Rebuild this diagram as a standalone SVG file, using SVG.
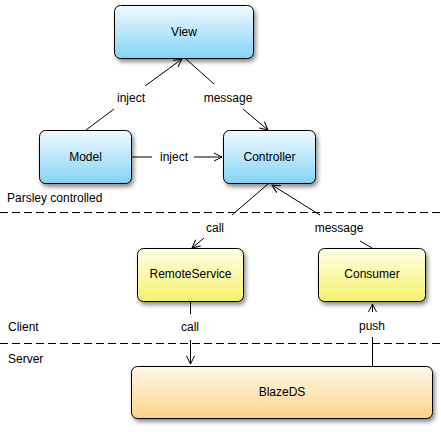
<svg xmlns="http://www.w3.org/2000/svg" width="441" height="432" viewBox="0 0 441 432">
<style>
text{font-family:"Liberation Sans",Arial,sans-serif;font-size:12px;fill:#000}
.lbl{text-anchor:middle}
.box{stroke:#000;stroke-width:1}
.c{stroke:#000;stroke-width:1;fill:none}
.dash{stroke:#000;stroke-width:1;stroke-dasharray:8,4}
</style>
<defs>
<linearGradient id="gb" x1="0" y1="0" x2="0" y2="1"><stop offset="0" stop-color="#f0faff"/><stop offset="1" stop-color="#84d3f7"/></linearGradient>
<linearGradient id="gy" x1="0" y1="0" x2="0" y2="1"><stop offset="0" stop-color="#ffffe8"/><stop offset="1" stop-color="#f5f26c"/></linearGradient>
<linearGradient id="go" x1="0" y1="0" x2="0" y2="1"><stop offset="0" stop-color="#fff8ec"/><stop offset="1" stop-color="#fdd385"/></linearGradient>
<filter id="sh" x="-20%" y="-20%" width="150%" height="160%"><feDropShadow dx="2" dy="3" stdDeviation="2" flood-color="#000" flood-opacity="0.45"/></filter>
<marker id="ar" markerWidth="10" markerHeight="10" refX="9" refY="5" orient="auto" markerUnits="userSpaceOnUse"><path d="M1,1 L9,5 L1,9" fill="none" stroke="#000" stroke-width="1"/></marker>
</defs>
<line class="dash" x1="0" y1="212.5" x2="441" y2="212.5"/>
<line class="dash" x1="0" y1="343.5" x2="441" y2="343.5"/>
<text x="7" y="202">Parsley controlled</text>
<text x="8" y="331">Client</text>
<text x="8" y="363">Server</text>
<g id="connectors">
<line class="c" x1="86" y1="130" x2="114" y2="109"/>
<line class="c" x1="145" y1="86" x2="182" y2="59" marker-end="url(#ar)"/>
<text class="lbl" x="131" y="102">inject</text>
<line class="c" x1="186" y1="59" x2="214" y2="84"/>
<line class="c" x1="243" y1="109" x2="268" y2="130" marker-end="url(#ar)"/>
<text class="lbl" x="228" y="102">message</text>
<line class="c" x1="132" y1="157" x2="152" y2="157"/>
<line class="c" x1="194" y1="157" x2="222" y2="157" marker-end="url(#ar)"/>
<text class="lbl" x="174" y="161">inject</text>
<line class="c" x1="268" y1="184" x2="232" y2="215"/>
<line class="c" x1="204" y1="238" x2="192" y2="248" marker-end="url(#ar)"/>
<text class="lbl" x="215" y="232">call</text>
<line class="c" x1="372" y1="248" x2="360" y2="241"/>
<line class="c" x1="320" y1="215" x2="272" y2="185" marker-end="url(#ar)"/>
<text class="lbl" x="339" y="232">message</text>
<line class="c" x1="190.5" y1="302" x2="190.5" y2="314"/>
<line class="c" x1="190.5" y1="340" x2="190.5" y2="364" marker-end="url(#ar)"/>
<text class="lbl" x="190" y="331">call</text>
<line class="c" x1="372.5" y1="366" x2="372.5" y2="337"/>
<line class="c" x1="372.5" y1="312" x2="372.5" y2="304" marker-end="url(#ar)"/>
<text class="lbl" x="372" y="330">push</text>
</g>
<g id="view"><rect class="box" x="114.5" y="5.5" width="139" height="53" rx="6" fill="url(#gb)" filter="url(#sh)"/><text class="lbl" x="184" y="36">View</text></g>
<g id="model"><rect class="box" x="39.5" y="130.5" width="92" height="53" rx="6" fill="url(#gb)" filter="url(#sh)"/><text class="lbl" x="85.5" y="161">Model</text></g>
<g id="controller"><rect class="box" x="223.5" y="130.5" width="92" height="53" rx="6" fill="url(#gb)" filter="url(#sh)"/><text class="lbl" x="269.5" y="161">Controller</text></g>
<g id="remoteservice"><rect class="box" x="137.5" y="248.5" width="106" height="53" rx="6" fill="url(#gy)" filter="url(#sh)"/><text class="lbl" x="190.5" y="278">RemoteService</text></g>
<g id="consumer"><rect class="box" x="318.5" y="248.5" width="107" height="53" rx="6" fill="url(#gy)" filter="url(#sh)"/><text class="lbl" x="372" y="278">Consumer</text></g>
<g id="blazeds"><rect class="box" x="131.5" y="366.5" width="301" height="52" rx="6" fill="url(#go)" filter="url(#sh)"/><text class="lbl" x="282" y="396">BlazeDS</text></g>
</svg>
